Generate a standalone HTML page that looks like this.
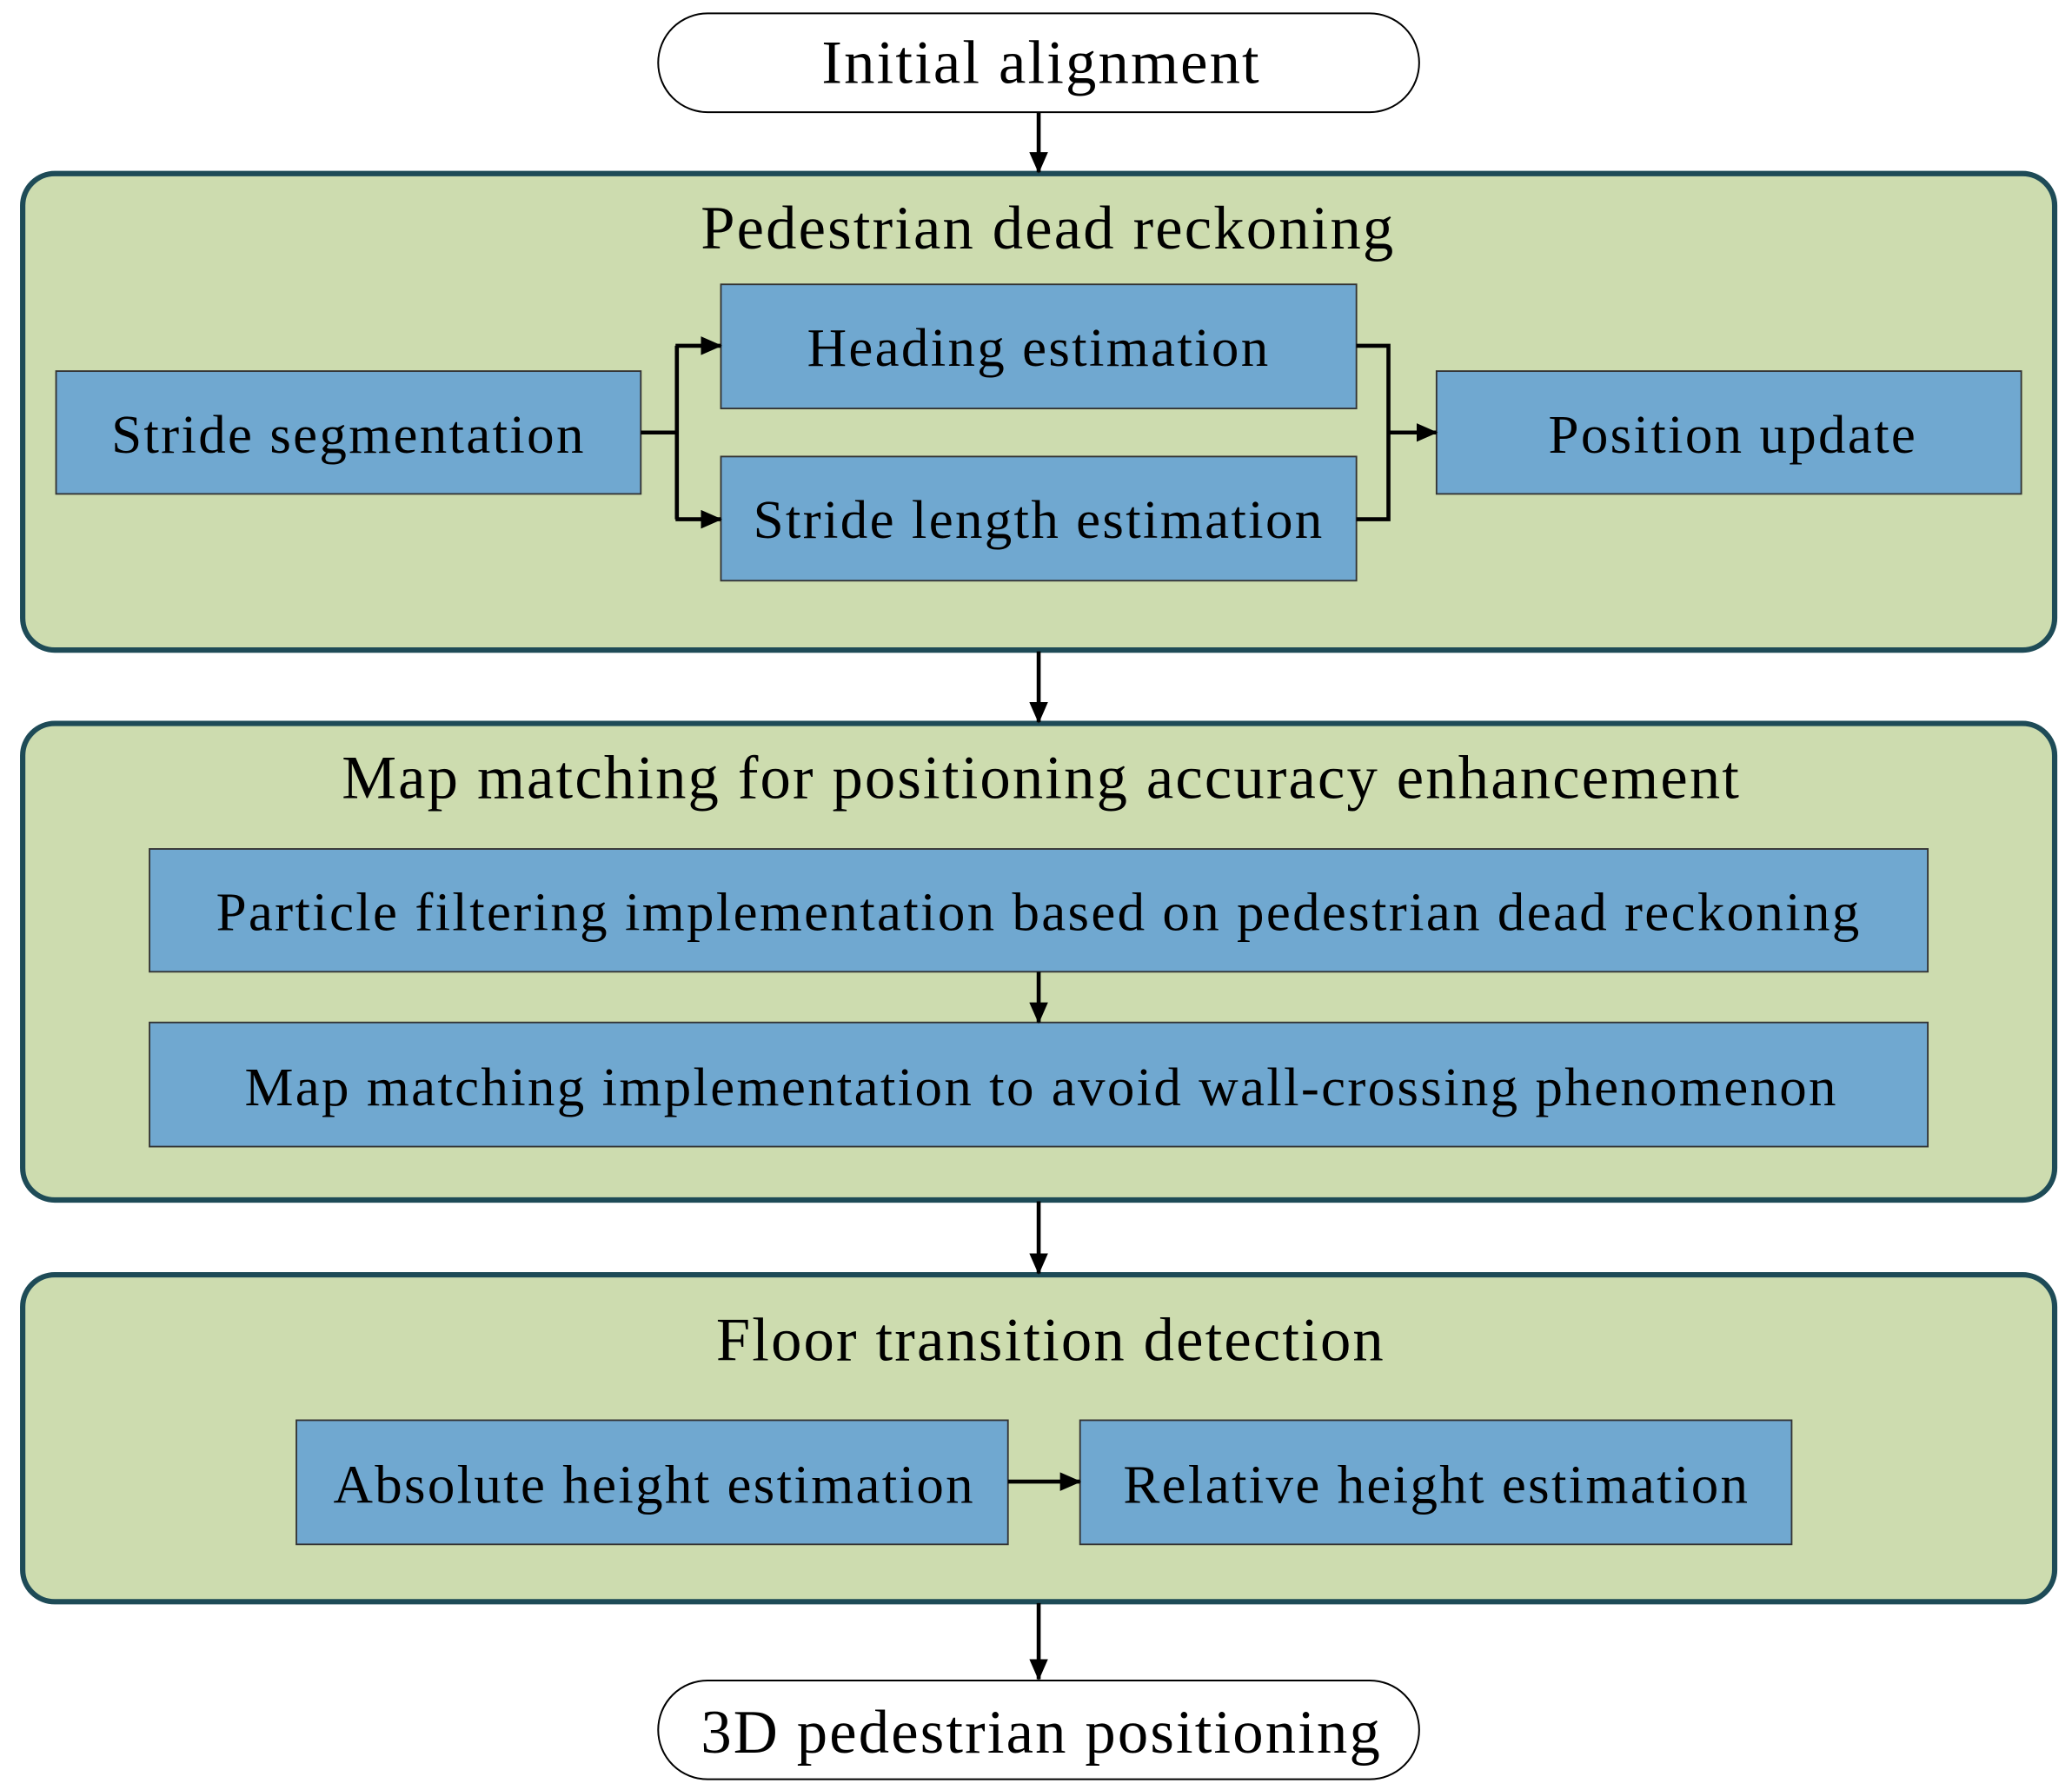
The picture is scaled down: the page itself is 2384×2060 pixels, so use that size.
<!DOCTYPE html>
<html><head><meta charset="utf-8">
<style>
html,body{margin:0;padding:0;background:#fff;}
svg{display:block;}
text{font-family:"Liberation Serif",serif;fill:#000;letter-spacing:1.5px;}
text.t{letter-spacing:1.4px;}
</style></head>
<body>
<svg width="2384" height="2060" viewBox="0 0 1552 1341" xmlns="http://www.w3.org/2000/svg">
<defs>
<marker id="a" markerWidth="16" markerHeight="14" refX="15" refY="7" orient="auto" markerUnits="userSpaceOnUse">
<path d="M0,0 L16,7 L0,14 Z" fill="#000"/>
</marker>
</defs>
<g stroke="#1e4b57" stroke-width="4" fill="#cddcaf">
<rect x="17" y="130" width="1522" height="357" rx="24"/>
<rect x="17" y="542" width="1522" height="357" rx="24"/>
<rect x="17" y="955" width="1522" height="245" rx="24"/>
</g>
<g stroke="#000" stroke-width="1.3" fill="#fff">
<rect x="493" y="10" width="570" height="74" rx="37"/>
<rect x="493" y="1259" width="570" height="74" rx="37"/>
</g>
<g stroke="#333" stroke-width="1.2" fill="#70a8d0">
<rect x="42" y="278" width="438" height="92"/>
<rect x="540" y="213" width="476" height="93"/>
<rect x="540" y="342" width="476" height="93"/>
<rect x="1076" y="278" width="438" height="92"/>
<rect x="112" y="636" width="1332" height="92"/>
<rect x="112" y="766" width="1332" height="93"/>
<rect x="222" y="1064" width="533" height="93"/>
<rect x="809" y="1064" width="533" height="93"/>
</g>
<g stroke="#000" stroke-width="3" fill="none">
<line x1="778" y1="84" x2="778" y2="129" marker-end="url(#a)"/>
<line x1="778" y1="488" x2="778" y2="541" marker-end="url(#a)"/>
<line x1="778" y1="900" x2="778" y2="954" marker-end="url(#a)"/>
<line x1="778" y1="1201" x2="778" y2="1258" marker-end="url(#a)"/>
<line x1="778" y1="728" x2="778" y2="766" marker-end="url(#a)"/>
<line x1="755" y1="1110" x2="809" y2="1110" marker-end="url(#a)"/>
<polyline points="480,324 507,324"/>
<polyline points="507,259 507,389"/>
<line x1="506" y1="259" x2="540" y2="259" marker-end="url(#a)"/>
<line x1="506" y1="389" x2="540" y2="389" marker-end="url(#a)"/>
<polyline points="1016,259 1040,259 1040,389 1016,389"/>
<line x1="1040" y1="324" x2="1076" y2="324" marker-end="url(#a)"/>
</g>
<g text-anchor="middle">
<text class="t" x="780" y="62" font-size="46">Initial alignment</text>
<text class="t" x="785" y="186" font-size="46">Pedestrian dead reckoning</text>
<text x="261" y="339" font-size="41">Stride segmentation</text>
<text x="778" y="274" font-size="41">Heading estimation</text>
<text x="778" y="403" font-size="41">Stride length estimation</text>
<text x="1298" y="339" font-size="41">Position update</text>
<text class="t" x="780" y="598" font-size="46">Map matching for positioning accuracy enhancement</text>
<text x="778" y="697" font-size="41">Particle filtering implementation based on pedestrian dead reckoning</text>
<text x="780" y="828" font-size="41">Map matching implementation to avoid wall-crossing phenomenon</text>
<text class="t" x="787" y="1019" font-size="46">Floor transition detection</text>
<text x="490" y="1126" font-size="41">Absolute height estimation</text>
<text x="1076" y="1126" font-size="41">Relative height estimation</text>
<text class="t" x="780" y="1313" font-size="46">3D pedestrian positioning</text>
</g>
</svg>
</body></html>
